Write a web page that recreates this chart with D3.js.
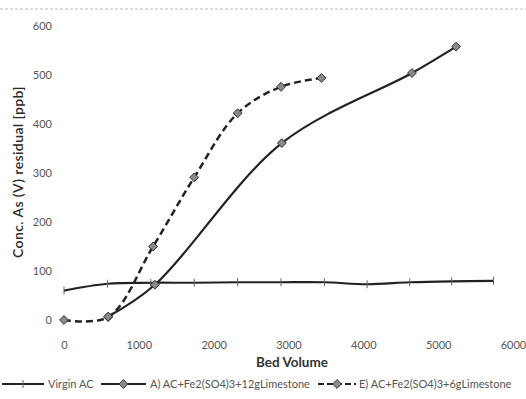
<!DOCTYPE html>
<html>
<head>
<meta charset="utf-8">
<script src="https://cdn.jsdelivr.net/npm/d3@7"></script>
<style>
  html, body { margin: 0; padding: 0; background: #fff; }
  svg { display: block; }
  text { font-family: Lato, "Open Sans", sans-serif; }
</style>
</head>
<body>
<svg id="chart" width="526" height="399"></svg>
<script>
// Bed volume vs. residual As(V) concentration
const virginBV   = [0, 580, 1160, 1740, 2320, 2900, 3480, 4050, 4620, 5180, 5740];
const virginConc = [60, 74, 76, 76, 77, 77, 77, 73, 77, 79, 80];

const seriesABV   = [590, 1215, 2910, 4650, 5240];
const seriesAConc = [7, 72, 361, 504, 558];

const seriesEBV   = [0, 590, 1190, 1740, 2320, 2900, 3440];
const seriesEConc = [0, 6, 150, 291, 422, 476, 494];

const xTicks = [0, 1000, 2000, 3000, 4000, 5000, 6000];
const yTicks = [0, 100, 200, 300, 400, 500, 600];

const legendLabels = ["Virgin AC", "A) AC+Fe2(SO4)3+12gLimestone", "E) AC+Fe2(SO4)3+6gLimestone"];

const svg = d3.select("#chart");

const x = d3.scaleLinear().domain([0, 6000]).range([64, 513]);
const y = d3.scaleLinear().domain([0, 600]).range([320, 26]);

// faint border line along the top edge
svg.append("line")
  .attr("x1", 0).attr("x2", 526).attr("y1", 9).attr("y2", 9)
  .attr("stroke", "#bbb").attr("stroke-width", 1)
  .attr("stroke-dasharray", "3,2");

// axes: labels only, no lines
const xAxis = svg.append("g")
  .attr("transform", `translate(0,${y(0)})`)
  .call(d3.axisBottom(x).tickValues(xTicks).tickSize(0).tickPadding(21).tickFormat(d3.format("d")));
const yAxis = svg.append("g")
  .attr("transform", `translate(${x(0)},0)`)
  .call(d3.axisLeft(y).tickValues(yTicks).tickSize(0).tickPadding(12).tickFormat(d3.format("d")));
[xAxis, yAxis].forEach(g => {
  g.select(".domain").remove();
  g.selectAll("text").attr("fill", "#555").style("font-size", "11px")
    .style("font-family", "Lato, 'Open Sans', sans-serif");
});

// axis titles
svg.append("text")
  .attr("x", 292).attr("y", 367)
  .attr("text-anchor", "middle")
  .attr("fill", "#333").style("font-size", "13.5px").style("font-weight", "bold")
  .text("Bed Volume");
svg.append("text")
  .attr("transform", "translate(23,172) rotate(-90)")
  .attr("text-anchor", "middle")
  .attr("fill", "#2a2a2a").style("font-size", "14px").style("font-weight", "600")
  .style("letter-spacing", "0.4px")
  .text("Conc. As (V) residual [ppb]");

const line = d3.line()
  .x(d => x(d[0])).y(d => y(d[1]))
  .curve(d3.curveCatmullRom.alpha(0.5));

const virgin = d3.zip(virginBV, virginConc);
const seriesA = d3.zip(seriesABV, seriesAConc);
const seriesE = d3.zip(seriesEBV, seriesEConc);

const diamond = d3.symbol().type(d3.symbolDiamond2).size(50);

// Virgin AC
svg.append("path").datum(virgin)
  .attr("d", line).attr("fill", "none")
  .attr("stroke", "#222").attr("stroke-width", 2.2);
svg.append("g").selectAll("line").data(virgin).join("line")
  .attr("x1", d => x(d[0])).attr("x2", d => x(d[0]))
  .attr("y1", d => y(d[1]) - 4).attr("y2", d => y(d[1]) + 4)
  .attr("stroke", "#666").attr("stroke-width", 1);

// Series E (dashed)
svg.append("path").datum(seriesE)
  .attr("d", line).attr("fill", "none")
  .attr("stroke", "#222").attr("stroke-width", 2.5)
  .attr("stroke-dasharray", "7,4");

// Series A (solid)
svg.append("path").datum(seriesA)
  .attr("d", line).attr("fill", "none")
  .attr("stroke", "#222").attr("stroke-width", 2.2);

[seriesE, seriesA].forEach(s => {
  svg.append("g").selectAll("path").data(s).join("path")
    .attr("transform", d => `translate(${x(d[0])},${y(d[1])})`)
    .attr("d", diamond)
    .attr("fill", "#8a8a8a").attr("stroke", "#333").attr("stroke-width", 1);
});

// legend
const legY = 384;
const legend = svg.append("g");
const items = [
  { x0: 2,   x1: 44,  dash: null,  marker: "tick",    tx: 48 },
  { x0: 101, x1: 146, dash: null,  marker: "diamond", tx: 150 },
  { x0: 318, x1: 356, dash: "6,3", marker: "diamond", tx: 359 }
];
items.forEach((it, i) => {
  legend.append("line")
    .attr("x1", it.x0).attr("x2", it.x1).attr("y1", legY).attr("y2", legY)
    .attr("stroke", "#222").attr("stroke-width", 2)
    .attr("stroke-dasharray", it.dash);
  const mx = (it.x0 + it.x1) / 2;
  if (it.marker === "tick") {
    legend.append("line")
      .attr("x1", mx).attr("x2", mx).attr("y1", legY - 4).attr("y2", legY + 4)
      .attr("stroke", "#666").attr("stroke-width", 1);
  } else {
    legend.append("path")
      .attr("transform", `translate(${mx},${legY})`)
      .attr("d", diamond)
      .attr("fill", "#8a8a8a").attr("stroke", "#333").attr("stroke-width", 1);
  }
  legend.append("text")
    .attr("x", it.tx).attr("y", legY).attr("dy", "0.35em")
    .attr("fill", "#555").style("font-size", "11px")
    .text(legendLabels[i]);
});
</script>
</body>
</html>
